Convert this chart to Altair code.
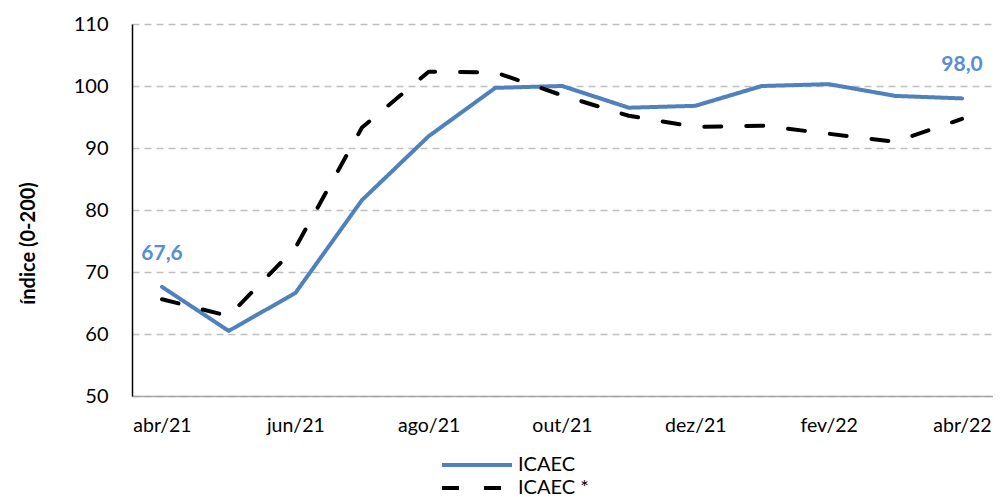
import json
import altair as alt
import pandas as pd

months = ["abr/21", "mai/21", "jun/21", "jul/21", "ago/21", "set/21", "out/21",
          "nov/21", "dez/21", "jan/22", "fev/22", "mar/22", "abr/22"]
icaec = [67.6, 60.5, 66.6, 81.6, 91.9, 99.7, 100.0, 96.5, 96.8, 100.0, 100.3, 98.4, 98.0]
icaec_star = [65.6, 62.9, 73.9, 93.3, 102.3, 102.2, 98.5, 95.2, 93.4, 93.6, 92.3, 91.0, 94.7]
series_names = ["ICAEC", "ICAEC *"]
y_ticks = [50, 60, 70, 80, 90, 100, 110]
x_tick_idx = [0, 2, 4, 6, 8, 10, 12]

rows = []
for name, vals in zip(series_names, [icaec, icaec_star]):
    for i, (m, v) in enumerate(zip(months, vals)):
        rows.append({"i": i, "mes": m, "serie": name, "v": v})
df = pd.DataFrame(rows)

FONT = "Lato"
label_expr = json.dumps(months) + "[datum.value]"

x = alt.X("i:Q",
          scale=alt.Scale(domain=[-0.45, 12.465], nice=False, zero=False),
          axis=alt.Axis(values=x_tick_idx, labelExpr=label_expr, title=None,
                        grid=False, ticks=False, domainColor="#A6A6A6",
                        domainWidth=1.5, labelFont=FONT, labelFontSize=19.5,
                        labelColor="#000000", labelPadding=20, labelBaseline="top",
                        labelBound=False))
y = alt.Y("v:Q",
          scale=alt.Scale(domain=[50, 110], nice=False, zero=False),
          axis=alt.Axis(values=y_ticks, title="índice (0-200)", grid=True,
                        gridColor="#BFBFBF", gridDash=[7, 5], gridWidth=1.3,
                        ticks=False, domainColor="#000000", domainWidth=1.5,
                        labelFont=FONT, labelFontSize=20, labelColor="#000000",
                        labelPadding=24, titleFont=FONT, titleFontSize=20,
                        titleFontWeight="bold", titleColor="#000000",
                        titleAngle=270, titleX=-104, titleY=219,
                        titleAlign="center", titleBaseline="middle"))

legend = alt.Legend(title=None, orient="none", legendX=333, legendY=429,
                    direction="vertical", symbolType="M-3.5,0H3.5",
                    symbolSize=400, symbolStrokeWidth=4, labelFont=FONT,
                    labelFontSize=20, labelColor="#000000", labelOffset=29,
                    rowPadding=1, padding=0)

lines = alt.Chart(df).mark_line(strokeWidth=4, strokeCap="round", strokeJoin="round").encode(
    x=x, y=y,
    color=alt.Color("serie:N", scale=alt.Scale(domain=series_names,
                                              range=["#4F81BD", "#000000"]),
                    legend=legend),
    strokeDash=alt.StrokeDash("serie:N", scale=alt.Scale(domain=series_names,
                                                        range=[[1, 0], [17, 25]]),
                              legend=legend),
    order=alt.Order("i:Q"),
)

labels = alt.Chart(df).transform_filter(
    "datum.serie == 'ICAEC' && (datum.i == 0 || datum.i == 12)"
).transform_calculate(
    txt="replace(format(datum.v, '.1f'), '.', ',')"
).mark_text(font=FONT, fontSize=21, fontWeight="bold", color="#558ED5",
            dy=-33, baseline="middle", align="center").encode(
    x="i:Q", y="v:Q", text="txt:N"
)

chart = (lines + labels).properties(
    width=861, height=372,
    autosize=alt.AutoSizeParams(type="none"),
    padding={"left": 124, "top": 16, "right": 0, "bottom": 103},
).configure_view(stroke=None)

chart.save("out.html", embed_options={"renderer": "svg", "actions": False})
